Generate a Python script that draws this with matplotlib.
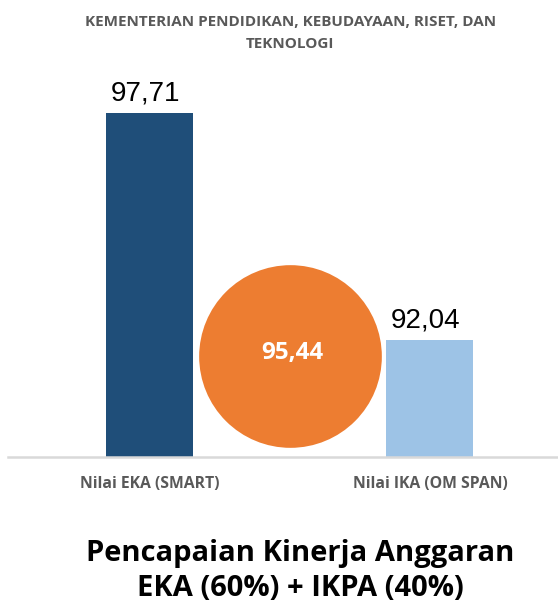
import matplotlib.pyplot as plt
import matplotlib.transforms as mtransforms

# datos del grafico
categorias = ['Nilai EKA (SMART)', 'Nilai IKA (OM SPAN)']
valores = [97.71, 92.04]
etiquetas = ['97,71', '92,04']
colores = ['#1F4E79', '#9DC3E6']
nilai_total = 95.44
etiqueta_total = '95,44'
judul_atas = 'KEMENTERIAN PENDIDIKAN, KEBUDAYAAN, RISET, DAN\nTEKNOLOGI'
judul_bawah = 'Pencapaian Kinerja Anggaran\nEKA (60%) + IKPA (40%)'

plt.rcParams['font.family'] = ['Open Sans', 'DejaVu Sans']

fig = plt.figure(figsize=(5.58, 6.06), dpi=100)
ax = fig.add_axes([0.0143, 0.2459, 0.9857, 0.655])

posiciones = [0, 2]
ax.bar(posiciones, valores, width=0.62, color=colores, zorder=2)

# etiquetas de valores encima de las barras
for x, v, t in zip(posiciones, valores, etiquetas):
    ax.annotate(t, (x, v), xytext=(-3, 5), textcoords='offset points',
                ha='center', va='bottom', fontsize=20,
                family='Liberation Sans', color='black')

# circulo central con el valor total
trans = mtransforms.blended_transform_factory(ax.transData, ax.transAxes)
ax.scatter([1], [0.255], s=17300, color='#ED7D31', transform=trans,
           zorder=3, clip_on=False, linewidths=0)
ax.text(1.02, 0.262, etiqueta_total, transform=trans, ha='center', va='center',
        fontsize=17.5, fontweight='bold', color='white', zorder=4)

ax.set_xlim(-1.009, 2.913)
ax.set_ylim(89.12, 99.04)
ax.set_xticks(posiciones)
ax.set_xticklabels(categorias, fontsize=11.3, fontweight='bold', color='#595959')
ax.tick_params(axis='x', length=0, pad=14)
ax.set_yticks([])
for lado in ['top', 'right', 'left']:
    ax.spines[lado].set_visible(False)
ax.spines['bottom'].set_color('#D9D9D9')
ax.spines['bottom'].set_linewidth(1.8)

fig.text(0.52, 0.946, judul_atas, ha='center', va='center', fontsize=11,
         fontweight='bold', color='#595959', linespacing=1.75)
fig.text(0.538, 0.0575, judul_bawah, ha='center', va='center', fontsize=21,
         fontweight='bold', color='black', linespacing=1.25)

fig.savefig('out.png', dpi=100)
